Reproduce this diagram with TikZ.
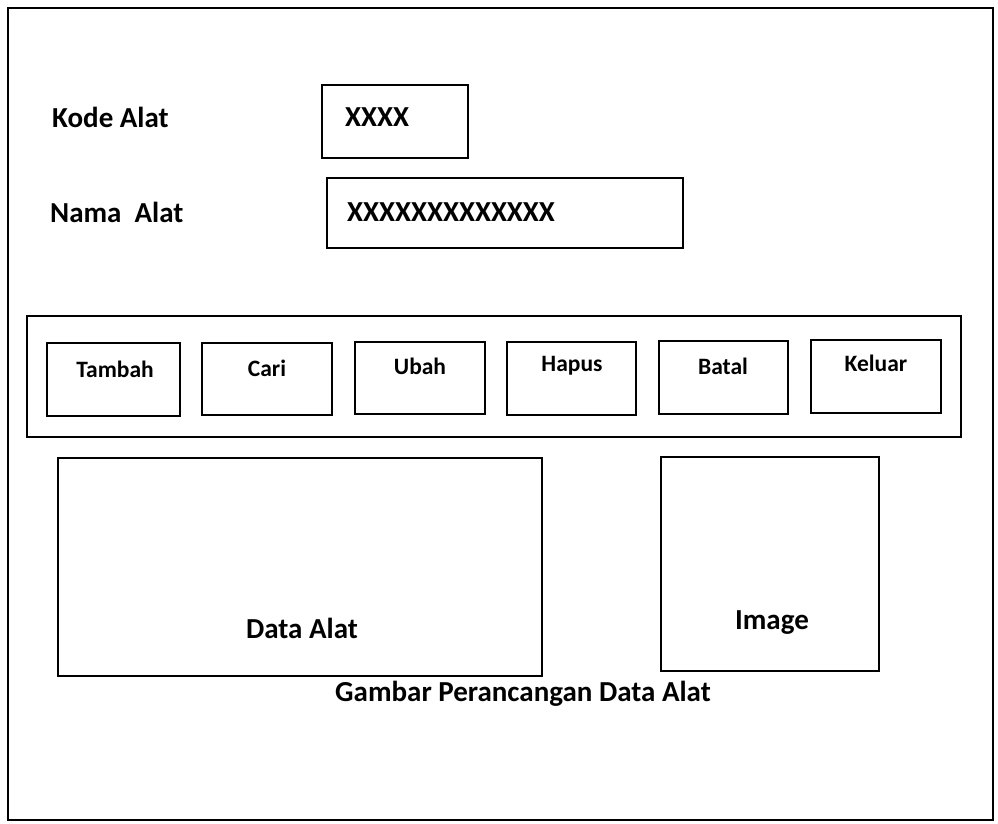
\documentclass[tikz,border=0pt]{standalone}
\usepackage{fontspec}
\setmainfont{Carlito}[BoldFont={Carlito Bold}]
\begin{document}
\begin{tikzpicture}[x=1pt,y=-1pt,
  frame/.style={draw=black, line width=1.8pt},
  box/.style={draw=black, line width=1.8pt, inner sep=0pt, outer sep=0pt, anchor=north west},
  lbl/.style={font=\fontsize{29}{33}\selectfont\bfseries, inner sep=0pt},
  btnlbl/.style={font=\fontsize{23.5}{27}\selectfont\bfseries, inner sep=0pt}
]
\useasboundingbox (0,0) rectangle (998,823);
\fill[white] (0,0) rectangle (998,823);
% outer window frame
\draw[frame] (8,8) rectangle (993,820);

% input fields
\node[lbl, anchor=west] (kodelbl) at (52,117) {Kode Alat};
\node[box, minimum width=146pt, minimum height=73pt] (kodebox) at (322,85) {};
\node[lbl, anchor=west] (kodeval) at (345,117) {XXXX};

\node[lbl, anchor=west] (namalbl) at (50,212) {Nama\ \ Alat};
\node[box, minimum width=356pt, minimum height=70pt] (namabox) at (327,178) {};
\node[lbl, anchor=west] (namaval) at (347,212) {XXXXXXXXXXXXX};

% button bar
\node[box, minimum width=934pt, minimum height=121pt] (bar) at (27,316) {};
\node[box, minimum width=133pt, minimum height=73pt] (btn1) at (47,343) {};
\node[box, minimum width=130pt, minimum height=72pt] (btn2) at (202,343) {};
\node[box, minimum width=130pt, minimum height=72pt] (btn3) at (355,342) {};
\node[box, minimum width=129pt, minimum height=73pt] (btn4) at (507,342) {};
\node[box, minimum width=129pt, minimum height=73pt] (btn5) at (659,341) {};
\node[box, minimum width=130pt, minimum height=73pt] (btn6) at (811,340) {};
\node[btnlbl] (t1) at (115,369) {Tambah};
\node[btnlbl] (t2) at (267,368) {Cari};
\node[btnlbl] (t3) at (420,366) {Ubah};
\node[btnlbl] (t4) at (572,366) {Hapus};
\node[btnlbl] (t5) at (723,366) {Batal};
\node[btnlbl] (t6) at (876,363) {Keluar};

% data grid and picture panels
\node[box, minimum width=484pt, minimum height=218pt] (grid) at (58,458) {};
\node[lbl] (gridlbl) at (302,628) {Data Alat};
\node[box, minimum width=218pt, minimum height=214pt] (img) at (661,457) {};
\node[lbl] (imglbl) at (772,623) {Image};

% caption
\node[lbl] (caption) at (523,694) {Gambar Perancangan Data Alat};
\end{tikzpicture}
\end{document}
